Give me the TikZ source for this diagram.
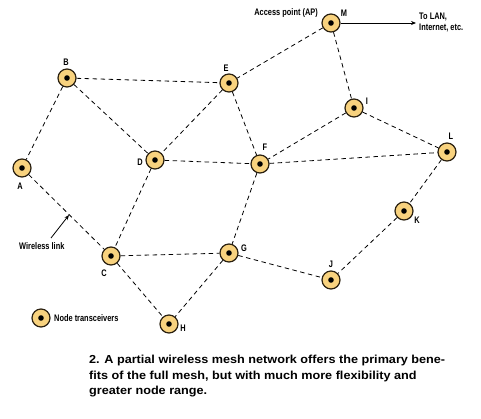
\documentclass[tikz,border=0pt]{standalone}
\usepackage{fontspec}
\setmainfont{Liberation Sans}
\newfontfamily\cond[FakeStretch=0.78]{Liberation Sans}
\newfontfamily\capfont[FakeStretch=1.09]{Liberation Sans}
\usetikzlibrary{arrows.meta}
\definecolor{nodefill}{HTML}{F8D27E}
\definecolor{nodeline}{HTML}{2A2010}
\tikzset{
  mnode/.style={circle,draw=nodeline,line width=1.2pt,fill=nodefill,minimum size=18pt,inner sep=0pt,
    path picture={\fill[black] (path picture bounding box.center) circle (2.8pt);}},
  lbl/.style={font=\cond\bfseries\fontsize{9.5}{10}\selectfont,inner sep=0pt},
  link/.style={dashed,dash pattern=on 4.5pt off 3.5pt,line width=0.8pt,black},
  arr/.style={-{Stealth[length=5pt,width=4pt]},line width=0.8pt,black}
}
\begin{document}
\begin{tikzpicture}[x=1pt,y=-1pt]
\useasboundingbox (0,0) rectangle (481,418);
\fill[white] (0,0) rectangle (481,418);
% nodes
\node[mnode] (M) at (331,23) {};
\node[mnode] (B) at (67,78) {};
\node[mnode] (E) at (229,83) {};
\node[mnode] (I) at (354,108) {};
\node[mnode] (L) at (447,152) {};
\node[mnode] (A) at (22,168) {};
\node[mnode] (D) at (155,160) {};
\node[mnode] (F) at (260,164) {};
\node[mnode] (K) at (404,211) {};
\node[mnode] (C) at (111,256) {};
\node[mnode] (G) at (229,253) {};
\node[mnode] (J) at (331,280) {};
\node[mnode] (H) at (169,324) {};
\node[mnode] (leg) at (41,318) {};
% links
\foreach \a/\b in {M/E,M/I,B/E,B/A,B/D,E/D,E/F,I/F,I/L,D/F,F/L,D/C,A/C,F/G,L/K,K/J,G/J,C/G,C/H,G/H}
  \draw[link] (\a) -- (\b);
% labels
\node[lbl] (lM) at (344,13) {M};
\node[lbl] (lB) at (66,62) {B};
\node[lbl] (lE) at (226,68) {E};
\node[lbl] (lI) at (367,101) {I};
\node[lbl] (lL) at (451,136) {L};
\node[lbl] (lA) at (20,186) {A};
\node[lbl] (lD) at (140,162) {D};
\node[lbl] (lF) at (265,147) {F};
\node[lbl] (lK) at (417,220) {K};
\node[lbl] (lC) at (104,273) {C};
\node[lbl] (lG) at (244,248) {G};
\node[lbl] (lJ) at (331,264) {J};
\node[lbl] (lH) at (183,328) {H};
\node[lbl,anchor=east] (ap) at (318,13) {Access point (AP)};
\node[lbl,anchor=north west,align=left,font=\cond\bfseries\fontsize{9.5}{11}\selectfont] (lan) at (419,13) {To LAN,\\Internet, etc.};
\coordinate (lanend) at (416,23);
\draw[arr] (M.east) -- (lanend);
\node[lbl,anchor=west] (wl) at (19,246) {Wireless link};
\coordinate (wltip) at (69,215);
\draw[arr] (51,238) -- (wltip);
\node[lbl,anchor=west] (legt) at (54,318) {Node transceivers};
% caption
\node[anchor=north west,align=left,inner sep=0pt,font=\capfont\bfseries\fontsize{11.6}{15.6}\selectfont] (cap) at (89,355)
{2. A partial wireless mesh network offers the primary bene-\\fits of the full mesh, but with much more flexibility and\\greater node range.};
\end{tikzpicture}
\end{document}
